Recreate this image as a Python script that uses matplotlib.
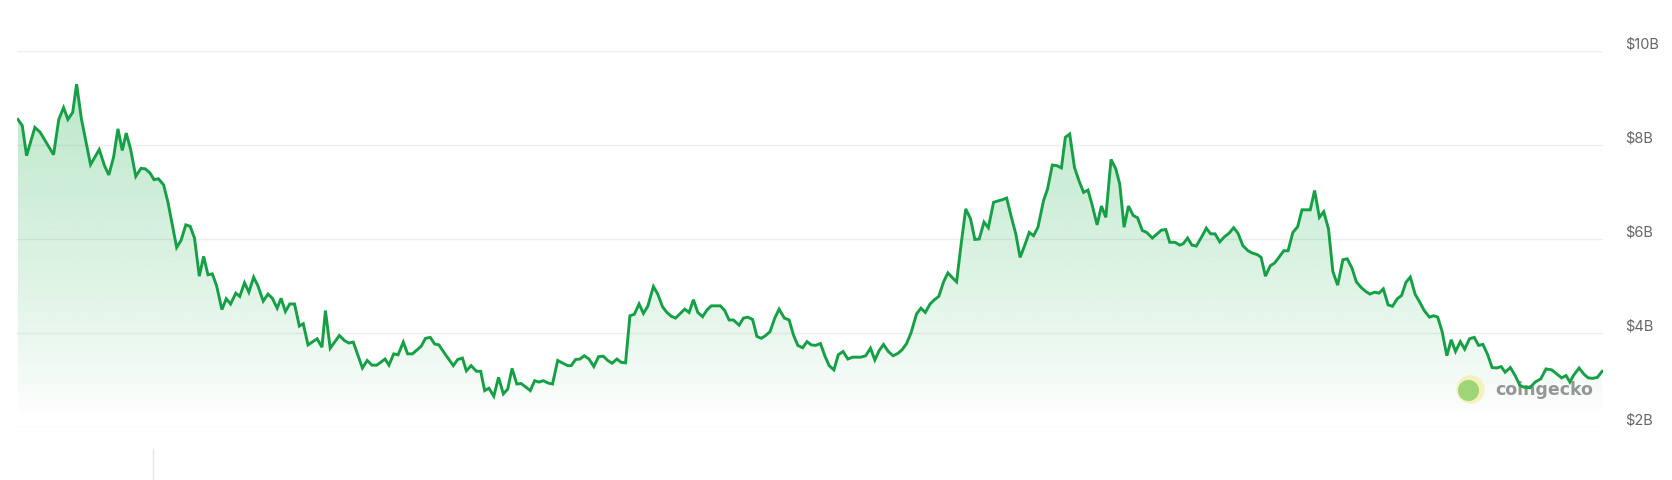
import numpy as np
import matplotlib
matplotlib.use("Agg")
import matplotlib.pyplot as plt
from matplotlib.colors import to_rgb
from matplotlib.transforms import ScaledTranslation

plt.rcParams['font.family'] = ['Inter', 'DejaVu Sans']

# market cap (billions USD), x = day of the year shown
days = [
    0.0, 1.0, 2.0, 3.9, 5.1, 6.4, 8.2, 9.4, 10.5, 11.5, 12.6, 13.5, 14.6, 16.7, 18.7, 19.9,
    20.9, 22.0, 23.0, 24.0, 24.9, 25.9, 27.1, 28.3, 29.3, 30.4, 31.3, 32.3, 33.5, 34.5, 36.5,
    37.5, 38.6, 39.6, 40.6, 41.7, 42.7, 43.7, 44.7, 45.7, 46.9, 47.9, 48.9, 50.1, 51.0, 52.1,
    53.1, 54.2, 55.2, 56.4, 57.5, 58.5, 59.6, 60.5, 61.5, 62.5, 63.6, 64.7, 65.6, 66.7, 67.8,
    68.8, 69.9, 70.7, 71.8, 73.9, 75.1, 76.1, 77.1, 79.2, 80.3, 81.4, 82.5, 84.4, 85.3, 86.4,
    87.4, 88.6, 89.6, 90.7, 91.7, 92.7, 93.7, 94.8, 95.8, 96.8, 98.1, 100.1, 101.1, 102.2,
    103.1, 104.2, 105.4, 106.4, 107.3, 108.3, 109.4, 110.5, 111.6, 112.6, 113.6, 114.7, 115.7,
    117.8, 118.8, 119.8, 120.8, 121.9, 122.9, 124.1,
    125.1, 126.4, 127.2, 128.2, 129.2, 130.2, 131.3, 132.4, 133.5, 134.6, 135.6, 136.6, 137.7,
    138.7, 139.7, 140.7, 141.7, 142.8, 143.8, 144.8, 146.1, 147.1, 148.2, 149.2, 150.2, 151.2,
    152.2, 153.3, 154.3, 155.3, 156.3, 157.4, 158.4, 159.4, 160.4, 161.5, 162.5, 163.5, 164.5,
    165.8, 166.8, 167.8, 168.9, 169.9, 170.9, 171.9, 172.9, 174.0, 175.0, 176.2, 177.3, 178.3,
    179.3, 180.4, 181.4, 182.4, 183.4, 184.5, 185.5, 186.5, 187.6, 188.6, 189.7, 190.8, 191.9,
    192.8, 193.8, 194.9, 196.0, 197.0, 198.0, 199.0, 200.1, 201.2, 202.3, 203.3, 204.3, 205.3,
    206.6, 207.6, 208.6, 209.7, 210.7, 211.7, 212.8, 213.8, 214.8, 215.8, 216.8, 217.9, 219.0,
    220.0, 221.0, 222.1, 223.1, 224.3, 225.4, 226.5, 227.3, 228.4, 229.4, 230.4, 231.4, 232.5,
    233.5, 234.5, 235.8, 236.7, 237.8, 238.8, 239.9, 240.8, 241.8, 242.9, 244.0, 245.0, 246.0,
    247.0, 248.1, 249.1, 250.1,
    251.3, 252.4, 253.3, 254.3, 255.3, 256.4, 257.4, 258.5, 259.5, 260.8, 261.9, 262.9, 263.9,
    264.8, 266.0, 267.1, 267.9, 268.9, 269.9, 270.9, 272.1, 273.2, 274.2, 275.2, 276.3, 277.4,
    278.4, 279.5, 280.5, 281.6, 282.8, 283.8, 284.9, 285.8, 286.8, 287.9, 288.9, 289.9, 291.0,
    292.0, 293.1, 294.2, 295.2, 296.2, 297.1, 298.1, 299.2, 300.2, 301.3, 302.3, 303.4, 304.6,
    305.6, 306.7, 307.7, 308.8, 309.8, 310.8, 311.9, 312.9, 313.9, 315.0, 316.0, 317.1, 318.1,
    319.1, 320.1, 321.2, 322.2, 323.3, 324.5, 325.5, 326.4, 327.4, 328.5, 329.5, 330.5, 331.6,
    332.6, 333.7, 334.8, 335.8, 336.8, 337.9, 338.9, 340.0, 341.0, 341.9, 343.1, 344.2, 345.3,
    346.3, 347.6, 348.8, 350.1, 351.3, 352.6, 353.8, 354.9, 355.9, 356.8, 357.6, 358.9, 360.0,
    361.0, 362.0, 363.1, 364.2,
]
market_cap = [
    8.54, 8.41, 7.77, 8.37, 8.27, 8.07, 7.79, 8.54, 8.79, 8.54, 8.69, 9.29, 8.55, 7.58, 7.90, 7.56,
    7.36, 7.74, 8.34, 7.88, 8.25, 7.91, 7.33, 7.50, 7.49, 7.40, 7.26, 7.28, 7.15, 6.78, 5.82,
    5.97, 6.30, 6.27, 6.02, 5.21, 5.63, 5.24, 5.26, 5.00, 4.50, 4.73, 4.62, 4.85, 4.78, 5.07,
    4.87, 5.19, 5.00, 4.68, 4.83, 4.74, 4.53, 4.74, 4.46, 4.62, 4.62, 4.15, 4.20, 3.75, 3.82,
    3.88, 3.70, 4.48, 3.68, 3.95, 3.84, 3.79, 3.81, 3.26, 3.42, 3.32, 3.32, 3.45, 3.32, 3.56,
    3.54, 3.81, 3.56, 3.56, 3.64, 3.72, 3.89, 3.91, 3.77, 3.75, 3.57, 3.31, 3.44, 3.47,
    3.20, 3.31, 3.19, 3.19, 2.78, 2.83, 2.66, 3.06, 2.71, 2.81, 3.25, 2.92, 2.93,
    2.78, 2.99, 2.96, 2.99, 2.94, 2.92, 3.42,
    3.37, 3.31, 3.31, 3.44, 3.45, 3.52, 3.45, 3.29, 3.50, 3.51, 3.42, 3.36, 3.45,
    3.38, 3.37, 4.37, 4.40, 4.62, 4.42, 4.57, 4.99, 4.83, 4.56, 4.44, 4.36, 4.32,
    4.41, 4.51, 4.44, 4.71, 4.44, 4.35, 4.49, 4.58, 4.58, 4.58, 4.48, 4.28, 4.28,
    4.17, 4.32, 4.34, 4.29, 3.93, 3.89, 3.95, 4.03, 4.32, 4.51, 4.32, 4.28, 3.96,
    3.74, 3.69, 3.82, 3.75, 3.74, 3.78, 3.52, 3.31, 3.22, 3.54, 3.61, 3.45, 3.49,
    3.49, 3.49, 3.52, 3.68, 3.43, 3.63, 3.76, 3.61, 3.52, 3.57, 3.65, 3.78, 4.00,
    4.41, 4.53, 4.44, 4.62, 4.71, 4.78, 5.09, 5.28, 5.18, 5.09, 5.86, 6.64, 6.43,
    5.99, 6.00, 6.36, 6.24, 6.78, 6.81, 6.84, 6.87, 6.46, 6.11, 5.61, 5.85, 6.14,
    6.07, 6.25, 6.82, 7.06, 7.57, 7.56, 7.51, 8.16, 8.23, 7.52, 7.22, 6.99, 7.04,
    6.71, 6.30, 6.70, 6.46,
    7.69, 7.49, 7.17, 6.25, 6.70, 6.50, 6.45, 6.18, 6.14, 6.02, 6.11, 6.19, 6.20,
    5.93, 5.93, 5.87, 5.90, 6.02, 5.87, 5.85, 6.04, 6.23, 6.11, 6.11, 5.94, 6.05,
    6.12, 6.24, 6.12, 5.86, 5.75, 5.70, 5.67, 5.61, 5.21, 5.43, 5.49, 5.61, 5.75,
    5.75, 6.14, 6.26, 6.62, 6.62, 6.62, 7.03, 6.46, 6.58, 6.21, 5.31, 5.02, 5.56,
    5.58, 5.38, 5.09, 4.97, 4.89, 4.83, 4.87, 4.85, 4.94, 4.60, 4.57, 4.73, 4.80,
    5.08, 5.19, 4.83, 4.67, 4.48, 4.34, 4.37, 4.34, 4.04, 3.52, 3.86, 3.61, 3.82,
    3.66, 3.88, 3.91, 3.74, 3.76, 3.54, 3.27, 3.26, 3.29, 3.17, 3.27, 3.10, 2.89,
    2.85, 2.84, 2.96, 3.03, 3.24, 3.22, 3.13, 3.05, 3.10, 2.96, 3.10, 3.26, 3.13,
    3.05, 3.04, 3.06, 3.19,
]
y_ticks = [2, 4, 6, 8, 10]
y_labels = ['$2B', '$4B', '$6B', '$8B', '$10B']

GREEN = '#16a046'
x = np.array(days)
y = np.array(market_cap)

fig = plt.figure(figsize=(16.72, 4.81), dpi=100)
ax = fig.add_axes([0.01005, 0.10956, 0.94868, 0.78296])
ax.set_xlim(-0.25, 364.4)
ax.set_ylim(2, 10)

for v in y_ticks:
    ax.axhline(v, color='#eeeeee', lw=1, zorder=0)

# gradient fill under the line, fading out towards the bottom
n = 256
grad = np.zeros((n, 1, 4))
grad[..., :3] = to_rgb('#20b050')
levels = np.linspace(2, 10, n)
grad[:, 0, 3] = 0.32 * np.clip((levels - 2.2) / 7.8, 0, 1) ** 0.8
im = ax.imshow(grad, extent=[x.min(), x.max(), 2, 10], origin='lower',
               aspect='auto', zorder=1, interpolation='bilinear')
poly = ax.fill_between(x, y, 2, color='none', lw=0)
im.set_clip_path(poly.get_paths()[0], transform=ax.transData)

# coingecko watermark
ax.scatter([0.9162], [0.1017], s=420, color='#f6eeb0', alpha=0.8,
           transform=ax.transAxes, zorder=2, lw=0)
ax.scatter([0.9150], [0.0990], s=230, color='#8fd16a', alpha=0.85,
           transform=ax.transAxes, zorder=2, lw=0)
ax.text(0.9319, 0.1017, 'coingecko', transform=ax.transAxes, ha='left', va='center',
        fontsize=12.5, fontweight='bold', color='#8a8a8a', alpha=0.9, zorder=2,
        family=['DejaVu Sans'])

ax.plot(x, y, color=GREEN, lw=2.1, zorder=3, solid_joinstyle='miter')

off = ScaledTranslation(0.22, 0.075, fig.dpi_scale_trans)
for v, lab in zip(y_ticks, y_labels):
    ax.text(1.0, v, lab, transform=ax.get_yaxis_transform() + off,
            ha='left', va='center', fontsize=10.5, color='#666666')

ax.set_xticks([])
ax.set_yticks([])
for s in ax.spines.values():
    s.set_visible(False)

# faint cut-off marker under the chart
fig.add_artist(plt.Line2D([153 / 1672, 153 / 1672], [0, 31 / 481], color='#e6e6e6', lw=1))

fig.savefig('out.png', dpi=100, facecolor='white')
